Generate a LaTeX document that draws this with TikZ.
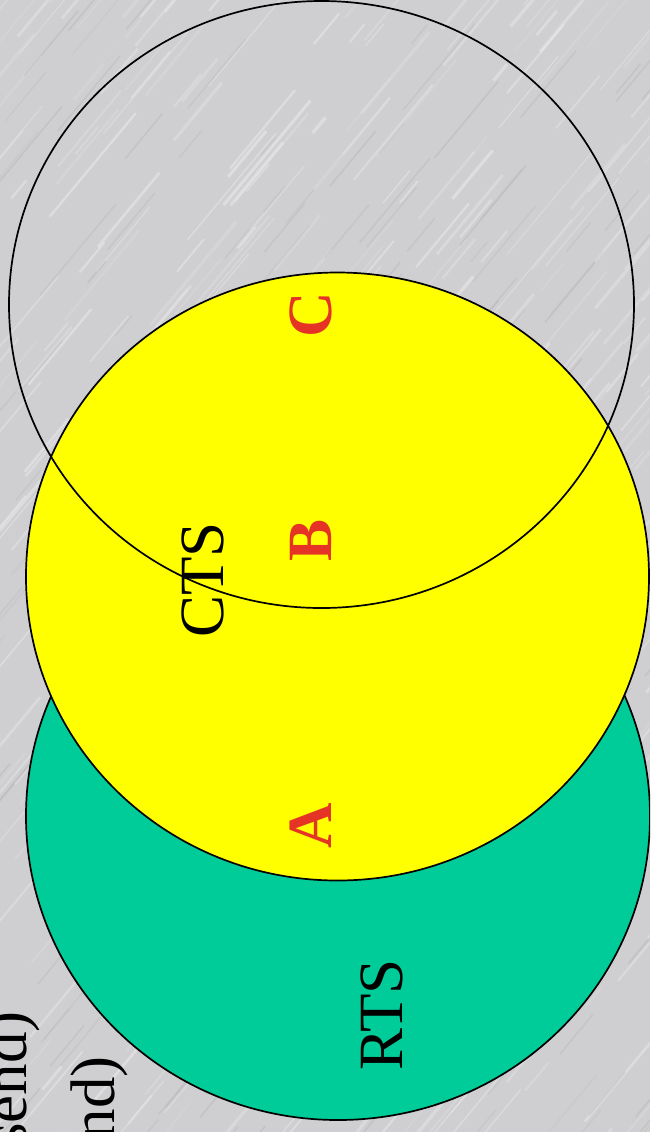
\documentclass[tikz,border=0pt]{standalone}
\usepackage{fontspec}
\setmainfont{Liberation Serif}
\definecolor{bgray}{RGB}{207,206,209}
\definecolor{rtsgreen}{RGB}{0,204,153}
\definecolor{ctsyellow}{RGB}{255,255,0}
\definecolor{lblred}{RGB}{229,52,38}
\begin{document}
\begin{tikzpicture}[x=0.5pt,y=-0.5pt,
  zone/.style={draw=black,line width=0.85pt},
  bigtxt/.style={rotate=90,anchor=base,inner sep=0pt,font=\fontsize{31.5}{36}\selectfont},
  redtxt/.style={rotate=90,anchor=base,inner sep=0pt,text=lblred,font=\fontsize{31.5}{36}\selectfont\bfseries},
  cuttxt/.style={rotate=90,anchor=base east,inner sep=0pt,font=\fontsize{31.5}{36}\selectfont}]
\useasboundingbox (0,0) rectangle (650,1132);
\clip (0,0) rectangle (650,1132);
\fill[bgray] (0,0) rectangle (650,1132);
\pgfmathsetseed{42}
\foreach \i in {1,...,450}{
  \pgfmathsetmacro{\sx}{rnd*760-60}
  \pgfmathsetmacro{\sy}{rnd*1240-40}
  \pgfmathsetmacro{\sl}{20+rnd*120}
  \pgfmathsetmacro{\so}{0.10+rnd*0.22}
  \pgfmathsetmacro{\sw}{0.5+rnd*1.2}
  \draw[white,opacity=\so,line width=\sw pt] (\sx,\sy) -- ++(\sl*0.64,-\sl*0.77);
}
\foreach \i in {1,...,200}{
  \pgfmathsetmacro{\sx}{rnd*760-60}
  \pgfmathsetmacro{\sy}{rnd*1240-40}
  \pgfmathsetmacro{\sl}{20+rnd*100}
  \pgfmathsetmacro{\so}{0.04+rnd*0.08}
  \draw[black!60,opacity=\so,line width=0.8pt] (\sx,\sy) -- ++(\sl*0.64,-\sl*0.77);
}
\draw[zone,fill=rtsgreen] (338,816) ellipse [x radius=312, y radius=304];
\draw[zone,fill=ctsyellow] (337.5,576.5) ellipse [x radius=311.5, y radius=304];
\draw[zone] (321.5,304.5) ellipse [x radius=312.5, y radius=303.5];
\node[bigtxt] (rts) at (402,1015) {RTS};
\node[bigtxt] (cts) at (223,580) {CTS};
\node[redtxt] (a) at (331,826) {A};
\node[redtxt] (b) at (331,540) {B};
\node[redtxt] (c) at (331,315) {C};
\node[cuttxt] (l1) at (26,1011) {send)};
\node[cuttxt] (l2) at (114,1056) {nd)};
\end{tikzpicture}
\end{document}
